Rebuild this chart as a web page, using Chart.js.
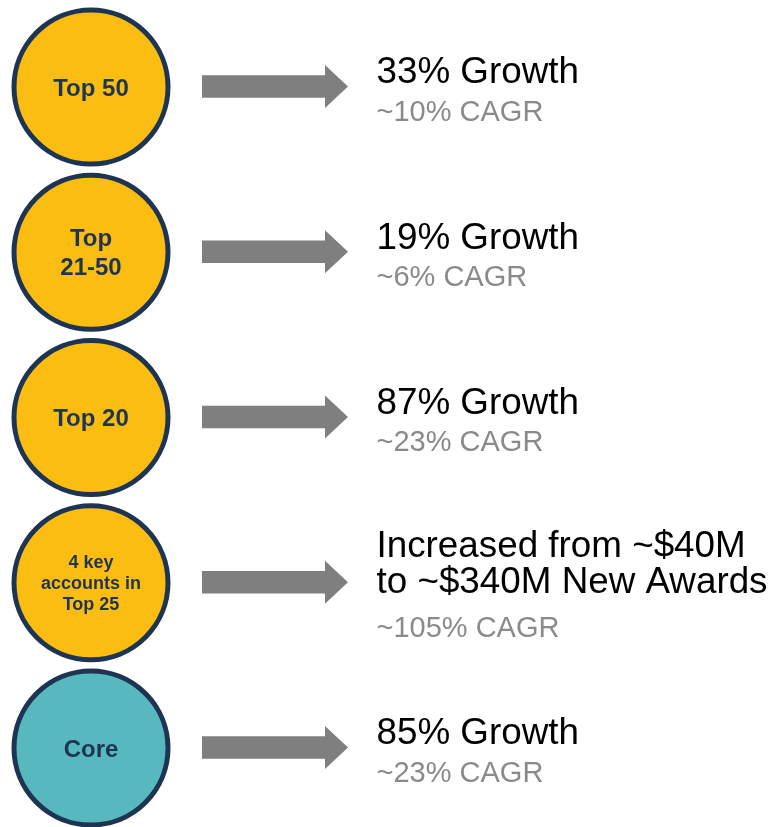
<!DOCTYPE html>
<html>
<head>
<meta charset="utf-8">
<script src="https://cdn.jsdelivr.net/npm/chart.js@4/dist/chart.umd.min.js"></script>
<style>
html,body{margin:0;padding:0;background:#fff;}
#wrap{width:772px;height:827px;position:relative;}
</style>
</head>
<body>
<div id="wrap"><canvas id="c" width="772" height="827"></canvas></div>
<script>
// ---- data ----
const categories = ['Top 50', 'Top 21-50', 'Top 20', '4 key accounts in Top 25', 'Core'];
const circleLines = [['Top 50'], ['Top', '21-50'], ['Top 20'], ['4 key', 'accounts in', 'Top 25'], ['Core']];
const growthLines = [['33% Growth'], ['19% Growth'], ['87% Growth'], ['Increased from ~$40M', 'to ~$340M New Awards'], ['85% Growth']];
const cagrLabels = ['~10% CAGR', '~6% CAGR', '~23% CAGR', '~105% CAGR', '~23% CAGR'];
const circleColors = ['#FCBD12', '#FCBD12', '#FCBD12', '#FCBD12', '#57B8C0'];

// ---- styles ----
const NAVY = '#1D3552';
const ARROW = '#7F7F7F';
const CAGR_COLOR = '#8A8A8A';
const FONT = '"Liberation Sans", Arial, Helvetica, sans-serif';

const infographic = {
  id: 'infographic',
  afterDatasetsDraw(chart) {
    const ctx = chart.ctx;
    const xs = chart.scales.x, ys = chart.scales.y;
    categories.forEach((cat, i) => {
      const cy = ys.getPixelForValue(i);
      const cx = xs.getPixelForValue(0);
      ctx.save();
      // circle label
      const lines = circleLines[i];
      const fs = lines.length > 2 ? 18 : 24;
      const lh = lines.length > 2 ? 20.8 : 29;
      ctx.font = 'bold ' + fs + 'px ' + FONT;
      ctx.fillStyle = NAVY;
      ctx.textAlign = 'center';
      ctx.textBaseline = 'alphabetic';
      const cap = fs * 0.716;
      const blockH = cap + (lines.length - 1) * lh;
      const firstBase = cy - blockH / 2 + cap;
      lines.forEach((t, k) => ctx.fillText(t, cx, firstBase + k * lh));

      // arrow
      const ax0 = xs.getPixelForValue(111), ax1 = xs.getPixelForValue(234), atip = xs.getPixelForValue(257);
      const sh = 11.3, hh = 21.5;
      const ay = cy - 0.5;
      ctx.fillStyle = ARROW;
      ctx.beginPath();
      ctx.moveTo(ax0, ay - sh);
      ctx.lineTo(ax1, ay - sh);
      ctx.lineTo(ax1, ay - hh);
      ctx.lineTo(atip, ay);
      ctx.lineTo(ax1, ay + hh);
      ctx.lineTo(ax1, ay + sh);
      ctx.lineTo(ax0, ay + sh);
      ctx.closePath();
      ctx.fill();

      // growth text
      const tx = xs.getPixelForValue(285.5);
      const g = growthLines[i];
      const n = g.length;
      const gFirst = cy - 3.7 - (n - 1) * 22.5;
      ctx.textAlign = 'left';
      ctx.fillStyle = '#000000';
      ctx.font = '36.8px ' + FONT;
      g.forEach((t, k) => ctx.fillText(t, tx, gFirst + k * 36.7));
      const last = gFirst + (n - 1) * 36.7;
      ctx.fillStyle = CAGR_COLOR;
      ctx.font = '29px ' + FONT;
      ctx.fillText(cagrLabels[i], tx, last + 37.4 + (n - 1) * 6.6);
      ctx.restore();
    });
  }
};

new Chart(document.getElementById('c'), {
  type: 'bubble',
  data: {
    labels: categories,
    datasets: [{
      label: 'Segments',
      data: categories.map((c, i) => ({ x: 0, y: i, r: 77 })),
      backgroundColor: circleColors,
      borderColor: NAVY,
      borderWidth: 5,
      hoverRadius: 0,
      clip: false
    }]
  },
  options: {
    responsive: false,
    animation: false,
    events: [],
    layout: { padding: 0, autoPadding: false },
    plugins: { legend: { display: false }, tooltip: { enabled: false } },
    scales: {
      x: { type: 'linear', min: -91, max: 681, display: false },
      y: { type: 'linear', min: -0.5265, max: 4.478, reverse: true, display: false }
    }
  },
  plugins: [infographic]
});
</script>
</body>
</html>
